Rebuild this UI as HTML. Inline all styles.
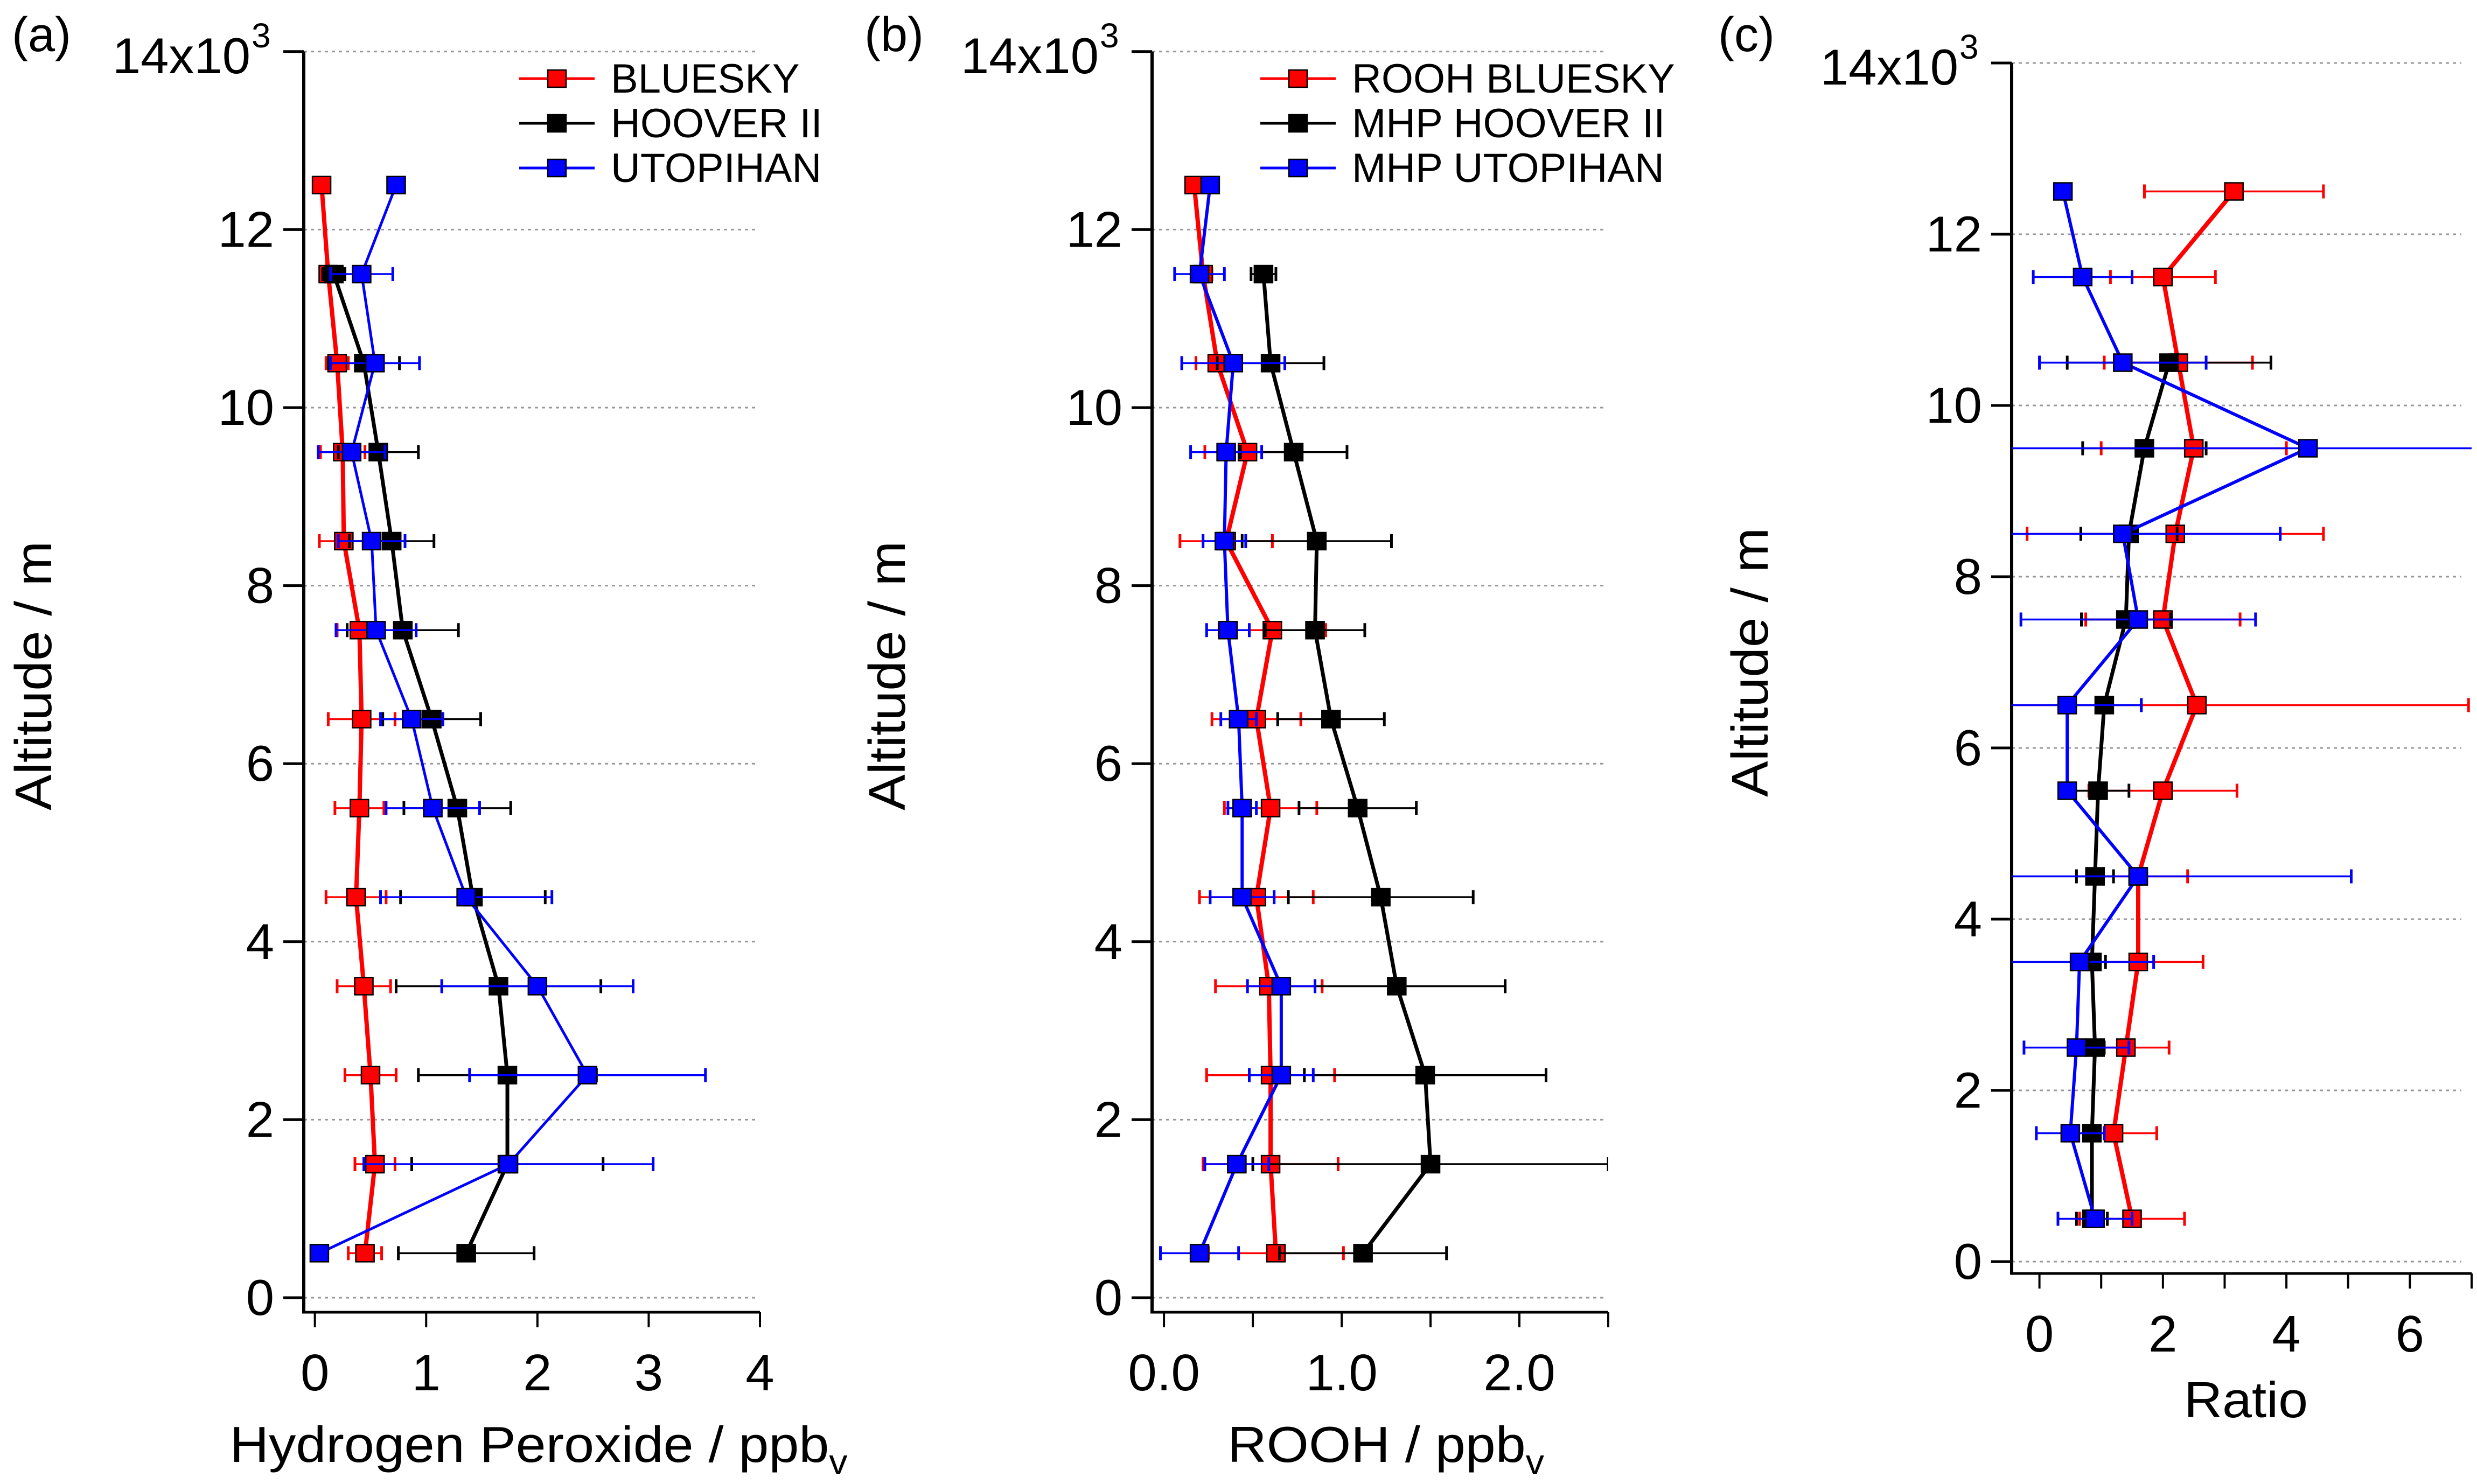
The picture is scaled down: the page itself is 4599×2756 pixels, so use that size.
<!DOCTYPE html>
<html><head><meta charset="utf-8"><style>
html,body{margin:0;padding:0;background:#fff;}
svg{display:block;font-family:"Liberation Sans",Arial,sans-serif;}
</style></head><body>
<svg id="chart" width="4599" height="2756" viewBox="0 0 4599 2756" xmlns="http://www.w3.org/2000/svg"></svg>
<script>
// ---- data ----
const altitudes = [12.5,11.5,10.5,9.5,8.5,7.5,6.5,5.5,4.5,3.5,2.5,1.5,0.5];
// Panel (a) Hydrogen peroxide (ppbv)
const a_bluesky = [0.06,0.12,0.20,0.25,0.26,0.40,0.42,0.40,0.37,0.44,0.50,0.54,0.45];
const a_bluesky_err = [0,0.03,0.10,0.20,0.22,0.20,0.30,0.22,0.27,0.24,0.23,0.18,0.15];
const a_hoover = [null,0.17,0.44,0.57,0.69,0.79,1.05,1.28,1.42,1.65,1.73,1.73,1.36];
const a_hoover_err = [0,0.10,0.32,0.36,0.38,0.50,0.44,0.48,0.65,0.92,0.80,0.86,0.61];
const a_utopihan = [0.73,0.42,0.54,0.33,0.51,0.55,0.87,1.06,1.36,2.00,2.45,1.74,0.04];
const a_utopihan_err = [0,0.28,0.40,0.30,0.30,0.36,0.28,0.42,0.77,0.86,1.06,1.30,0];
// Panel (b) ROOH (ppbv)
const b_bluesky = [0.17,0.22,0.30,0.47,0.35,0.61,0.52,0.60,0.52,0.59,0.60,0.60,0.63];
const b_bluesky_err = [0,0.05,0.12,0.24,0.26,0.30,0.25,0.26,0.32,0.30,0.36,0.38,0.38];
const b_hoover = [null,0.56,0.60,0.73,0.86,0.85,0.94,1.09,1.22,1.31,1.47,1.50,1.12];
const b_hoover_err = [0,0.07,0.30,0.30,0.42,0.28,0.30,0.33,0.52,0.61,0.68,1.00,0.47];
const b_utopihan = [0.26,0.20,0.39,0.35,0.34,0.36,0.42,0.44,0.44,0.66,0.66,0.41,0.20];
const b_utopihan_err = [0,0.14,0.29,0.20,0.12,0.12,0.10,0.08,0.18,0.19,0.18,0.18,0.22];
// Panel (c) Ratio
const c_red = [3.15,2.00,2.25,2.50,2.20,2.00,2.55,2.00,1.60,1.60,1.40,1.20,1.50];
const c_red_err = [1.45,0.85,1.20,1.50,2.40,1.25,4.40,1.20,0.80,1.05,0.70,0.70,0.85];
const c_black = [null,null,2.10,1.70,1.45,1.40,1.05,0.95,0.90,0.85,0.90,0.85,0.85];
const c_black_err = [0,0,1.65,1.00,0.78,0.72,0.60,0.50,0.30,0.22,0.15,0.10,0.25];
const c_blue = [0.38,0.70,1.35,4.35,1.35,1.60,0.45,0.45,1.60,0.65,0.60,0.50,0.90];
const c_blue_err = [0,0.80,1.35,5.00,2.55,1.90,1.20,0,3.45,1.20,0.85,0.55,0.60];
// tick labels
const yTickVals = [0,2,4,6,8,10,12];
const aXTicks = [0,1,2,3,4];
const bXTicks = [0.0,1.0,2.0];
const bXTickLabels = ["0.0","1.0","2.0"];
const cXTicks = [0,2,4,6];

const NS="http://www.w3.org/2000/svg";
const svg=document.getElementById('chart');
function mk(tag,attrs,parent){const e=document.createElementNS(NS,tag);for(const k in attrs)e.setAttribute(k,attrs[k]);(parent||svg).appendChild(e);return e;}

function panel(cfg){
  const g=mk('g',{});
  
  
  const X=v=>cfg.x0+(v-cfg.xmin)*(cfg.x1-cfg.x0)/(cfg.xmax-cfg.xmin);
  const Y=v=>cfg.yBase-v*cfg.yPerK;
  const top=Y(14), bottom=cfg.axisBottom;
  const cid='clip-'+cfg.name;
  const cp=mk('clipPath',{id:cid},g);
  mk('rect',{x:cfg.x0,y:top-30,width:cfg.x1-cfg.x0,height:bottom-top+30},cp);
  [0,2,4,6,8,10,12,14].forEach(v=>{
    const l=mk('line',{x1:cfg.x0,x2:cfg.gridEnd,y1:Y(v),y2:Y(v),stroke:'#999','stroke-width':3,'stroke-dasharray':'6,7'},g);
    
    
  });
  const ya=mk('line',{x1:cfg.x0,x2:cfg.x0,y1:top,y2:bottom+2,stroke:'#000','stroke-width':6},g);
  
  
  const xa=mk('line',{x1:cfg.x0-3,x2:cfg.x1,y1:bottom,y2:bottom,stroke:'#000','stroke-width':5},g);
  
  
  [0,2,4,6,8,10,12,14].forEach(v=>{
    mk('line',{x1:cfg.x0-38,x2:cfg.x0,y1:Y(v),y2:Y(v),stroke:'#000','stroke-width':5},g);
  });
  yTickVals.forEach(v=>{
    const t=mk('text',{x:cfg.x0-55,y:Y(v)+32,'text-anchor':'end','font-size':94},g);
    t.textContent=String(v);
    
    
  });
  const t14=mk('text',{x:cfg.x0-55-44,y:Y(14)+40,'text-anchor':'end','font-size':94},g);
  t14.textContent='14x10';
  
  
  const sup=mk('text',{x:cfg.x0-55-42,y:Y(14)-8,'text-anchor':'start','font-size':64},g);
  sup.textContent='3';
  for(let v=cfg.xmin_tick; v<=cfg.xmax+1e-9; v+=cfg.minorStep){
    mk('line',{x1:X(v),x2:X(v),y1:bottom,y2:bottom+28,stroke:'#000','stroke-width':4},g);
  }
  cfg.xTicks.forEach((v,i)=>{
    const t=mk('text',{x:X(v),y:bottom+145,'text-anchor':'middle','font-size':96},g);
    t.textContent=cfg.xLabels?cfg.xLabels[i]:String(v);
    
    
  });
  const yt=mk('text',{x:0,y:0,'text-anchor':'middle','font-size':96,textLength:500,lengthAdjust:'spacingAndGlyphs',transform:`translate(${cfg.yTitleX},${cfg.yTitleY}) rotate(-90)`},g);
  yt.textContent='Altitude / m';
  
  
  const xt=mk('text',{x:cfg.xTitleX,y:cfg.xTitleY,'text-anchor':'middle','font-size':94,textLength:cfg.xTitleLen,lengthAdjust:'spacingAndGlyphs'},g);
  
  
  if(cfg.sub){
    xt.appendChild(document.createTextNode(cfg.xTitle));
    const ts=document.createElementNS(NS,'tspan');ts.setAttribute('font-size',64);ts.setAttribute('dy',22);ts.textContent='v';xt.appendChild(ts);
  } else xt.textContent=cfg.xTitle;
  const pl=mk('text',{x:cfg.labelX,y:95,'font-size':90},g);
  pl.textContent=cfg.label;
  
  
  const dg=mk('g',{'clip-path':`url(#${cid})`},g);
  cfg.series.forEach(s=>{
    const sg=mk('g',{},dg);
    
    
    s.vals.forEach((v,i)=>{
      if(v==null||!s.err[i])return;
      const y=Y(altitudes[i]),xl=X(v-s.err[i]),xr=X(v+s.err[i]);
      const eb=mk('g',{},sg);
      
      
      mk('line',{x1:xl,x2:xr,y1:y,y2:y,stroke:s.color,'stroke-width':3.5},eb);
      mk('line',{x1:xl,x2:xl,y1:y-13,y2:y+13,stroke:s.color,'stroke-width':5},eb);
      mk('line',{x1:xr,x2:xr,y1:y-13,y2:y+13,stroke:s.color,'stroke-width':5},eb);
    });
    const pts=[];s.vals.forEach((v,i)=>{if(v!=null)pts.push(X(v)+','+Y(altitudes[i]));});
    const pl=mk('polyline',{points:pts.join(' '),fill:'none',stroke:s.color,'stroke-width':s.lw,'stroke-linejoin':'round'},sg);
    
    
    s.vals.forEach((v,i)=>{
      if(v==null)return;
      const r=mk('rect',{x:X(v)-17,y:Y(altitudes[i])-16,width:34,height:32,fill:s.color,stroke:'#000','stroke-width':2.5},sg);
      
      
    });
  });
  if(cfg.legend){
    const lg=mk('g',{},g);
    
    
    cfg.series.forEach((s,i)=>{
      const y=cfg.legend.y+i*83;
      const e=mk('g',{},lg);
      
      
      mk('line',{x1:cfg.legend.x,x2:cfg.legend.x+140,y1:y,y2:y,stroke:s.color,'stroke-width':5},e);
      mk('rect',{x:cfg.legend.x+53,y:y-16,width:34,height:32,fill:s.color,stroke:'#000','stroke-width':2.5},e);
      const t=mk('text',{x:cfg.legend.x+170,y:y+26,'font-size':76},e);
      t.textContent=s.label;
    });
  }
}

panel({name:'panel-a',label:'(a)',labelX:22,x0:564,x1:1411,xmin:-0.1,xmax:4,xmin_tick:0,minorStep:1,gridEnd:1405,
  yBase:2410,yPerK:165.3,axisBottom:2437,xTicks:aXTicks,
  yTitleX:95,yTitleY:1255,xTitle:'Hydrogen Peroxide / ppb',sub:true,xTitleX:1000,xTitleY:2715,xTitleLen:1147,
  legend:{x:964,y:146},
  series:[
   {id:'bluesky',label:'BLUESKY',color:'#ff0000',vals:a_bluesky,err:a_bluesky_err,lw:8},
   {id:'hoover',label:'HOOVER II',color:'#000000',vals:a_hoover,err:a_hoover_err,lw:7},
   {id:'utopihan',label:'UTOPIHAN',color:'#0000ff',vals:a_utopihan,err:a_utopihan_err,lw:5}]});

panel({name:'panel-b',label:'(b)',labelX:1605,x0:2139,x1:2986,xmin:-0.067,xmax:2.5,xmin_tick:0,minorStep:0.5,gridEnd:2980,
  yBase:2410,yPerK:165.3,axisBottom:2437,xTicks:bXTicks,xLabels:bXTickLabels,
  yTitleX:1680,yTitleY:1255,xTitle:'ROOH / ppb',sub:true,xTitleX:2573,xTitleY:2715,xTitleLen:588,
  legend:{x:2340,y:146},
  series:[
   {id:'rooh-bluesky',label:'ROOH BLUESKY',color:'#ff0000',vals:b_bluesky,err:b_bluesky_err,lw:8},
   {id:'mhp-hoover',label:'MHP HOOVER II',color:'#000000',vals:b_hoover,err:b_hoover_err,lw:7},
   {id:'mhp-utopihan',label:'MHP UTOPIHAN',color:'#0000ff',vals:b_utopihan,err:b_utopihan_err,lw:6}]});

panel({name:'panel-c',label:'(c)',labelX:3190,x0:3735,x1:4589,xmin:-0.45,xmax:7,xmin_tick:0,minorStep:1,gridEnd:4570,
  yBase:2343,yPerK:159,axisBottom:2365,xTicks:cXTicks,
  yTitleX:3282,yTitleY:1230,xTitle:'Ratio',sub:false,xTitleX:4170,xTitleY:2632,xTitleLen:230,
  series:[
   {id:'ratio-red',label:'',color:'#ff0000',vals:c_red,err:c_red_err,lw:8},
   {id:'ratio-black',label:'',color:'#000000',vals:c_black,err:c_black_err,lw:7},
   {id:'ratio-blue',label:'',color:'#0000ff',vals:c_blue,err:c_blue_err,lw:6}]});
</script>
</body></html>
